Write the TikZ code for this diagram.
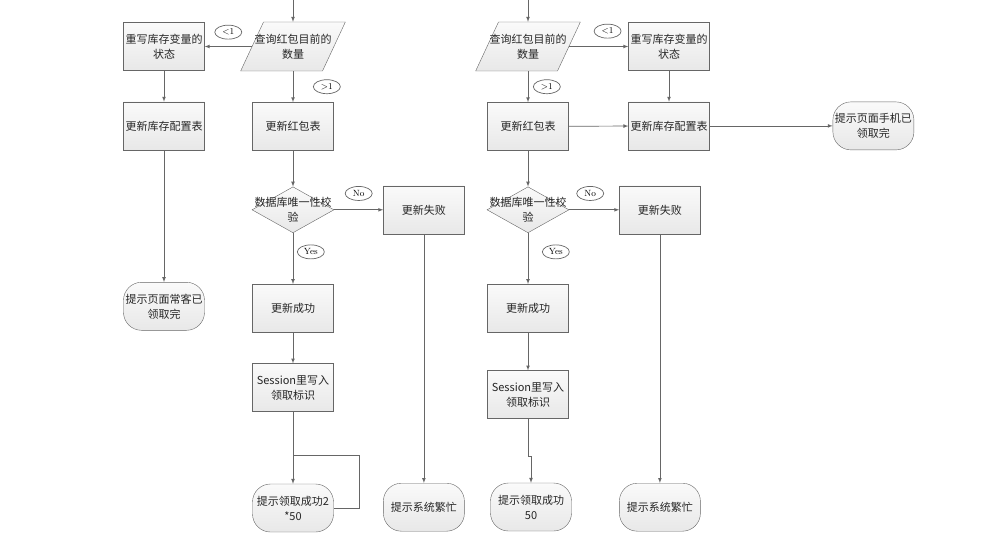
\documentclass[tikz,border=0pt]{standalone}
\usepackage{fontspec}
\newfontfamily\cjk{Noto Sans CJK SC}
\usetikzlibrary{positioning,shapes.geometric}
\tikzset{>=latex}
\tikzstyle{txt}    = [font=\cjk\fontsize{11}{15}\selectfont,
                      align=center,
                      text=black!85]
\tikzstyle{box}    = [txt,
                      rectangle,
                      draw=black!60,
                      top color=gray!4,
                      bottom color=gray!18,
                      minimum width=81pt,
                      minimum height=48pt,
                      inner sep=1pt]
\tikzstyle{term}   = [box, rounded corners=18pt]
\tikzstyle{io}     = [trapezium,
                      trapezium left angle=65,
                      trapezium right angle=115,
                      draw=black!60,
                      top color=gray!4,
                      bottom color=gray!18,
                      inner xsep=29.5pt,
                      inner ysep=24.5pt]
\tikzstyle{check}  = [diamond,
                      draw=black!60,
                      top color=gray!4,
                      bottom color=gray!18,
                      minimum width=82pt,
                      minimum height=46pt,
                      inner sep=0pt]
\tikzstyle{tag}    = [ellipse,
                      draw=black!60,
                      fill=white,
                      minimum width=27pt,
                      minimum height=14pt,
                      inner sep=0.5pt,
                      font=\fontsize{9}{10}\selectfont]
\tikzstyle{arrow}  = [->,
                      draw=black!60,
                      line width=0.7pt]
\tikzstyle{line}   = [draw=black!60,
                      line width=0.7pt]

\begin{document}
\begin{tikzpicture}[x=1pt, y=-1pt]
  \useasboundingbox (0,0) rectangle (1008,540);

  % Nodes, left flow
  \coordinate (in1) at (293,0);
  \node[io, label={[txt]center:查询红包目前的\\数量}] (q1) at (293,46.5) {};
  \node[box]                   (w1) at (164,46.5) {重写库存变量的\\状态};
  \node[box, below=31pt of w1] (c1)  {更新库存配置表};
  \node[term, below=132pt of c1] (p1) {提示页面常客已\\领取完};
  \node[box, below=31pt of q1] (u1)  {更新红包表};
  \node[check, below=36pt of u1,
        label={[txt]center:数据库唯一性校\\验}] (d1) {};
  \node[box, right=49pt of d1] (f1)  {更新失败};
  \node[term, below=249pt of f1] (n1) {提示系统繁忙};
  \node[box, below=51pt of d1] (s1)  {更新成功};
  \node[box, below=31pt of s1] (k1)  {Session里写入\\领取标识};
  \node[term, below=72pt of k1] (t1) {提示领取成功2\\*50};
  \coordinate (lp1) at (359,455);

  % Nodes, right flow
  \coordinate (in2) at (528,0);
  \node[io, label={[txt]center:查询红包目前的\\数量}] (q2) at (528,46.5) {};
  \node[box]                   (w2) at (669,46.5) {重写库存变量的\\状态};
  \node[box, below=31pt of w2] (c2)  {更新库存配置表};
  \node[term, right=123pt of c2] (h2) {提示页面手机已\\领取完};
  \node[box, below=31pt of q2] (u2)  {更新红包表};
  \node[check, below=36pt of u2,
        label={[txt]center:数据库唯一性校\\验}] (d2) {};
  \node[box, right=50pt of d2] (f2)  {更新失败};
  \node[term, below=249pt of f2] (n2) {提示系统繁忙};
  \node[box, below=51pt of d2] (s2)  {更新成功};
  \node[box, below=38pt of s2] (k2)  {Session里写入\\领取标识};
  \node[term, below=64pt of k2, xshift=3pt] (t2) {提示领取成功\\50};

  % Edges, left flow
  \draw[arrow] (in1) -- (q1);
  \draw[arrow] (q1) -- (w1) node[tag, midway, above=7pt] {<1};
  \draw[arrow] (w1) -- (c1);
  \draw[arrow] (c1) -- (p1);
  \draw[arrow] (q1) -- (u1) node[tag, midway, right=20pt] {>1};
  \draw[arrow] (u1) -- (d1);
  \draw[arrow] (d1) -- (f1) node[tag, midway, above=9pt] {No};
  \draw[arrow] (d1) -- (s1) node[tag, pos=0.37, right=4pt] {Yes};
  \draw[arrow] (s1) -- (k1);
  \draw[arrow] (k1) -- (t1);
  \draw[line]  (k1.south |- lp1) -- (lp1) |- (t1.east);
  \draw[arrow] (f1) -- (n1);

  % Edges, right flow
  \draw[arrow] (in2) -- (q2);
  \draw[arrow] (q2) -- (w2) node[tag, pos=0.65, above=8pt] {<1};
  \draw[arrow] (w2) -- (c2);
  \draw[arrow] (q2) -- (u2) node[tag, midway, right=5pt] {>1};
  \draw[arrow] (u2) -- (c2);
  \draw[arrow] (c2) -- (h2);
  \draw[arrow] (u2) -- (d2);
  \draw[arrow] (d2) -- (f2) node[tag, pos=0.42, above=9pt] {No};
  \draw[arrow] (d2) -- (s2) node[tag, pos=0.37, right=14pt] {Yes};
  \draw[arrow] (s2) -- (k2);
  \draw[arrow] (k2.south) -- ++(0,38) -| (t2.north);
  \draw[arrow] (f2) -- (n2);

\end{tikzpicture}
\end{document}
